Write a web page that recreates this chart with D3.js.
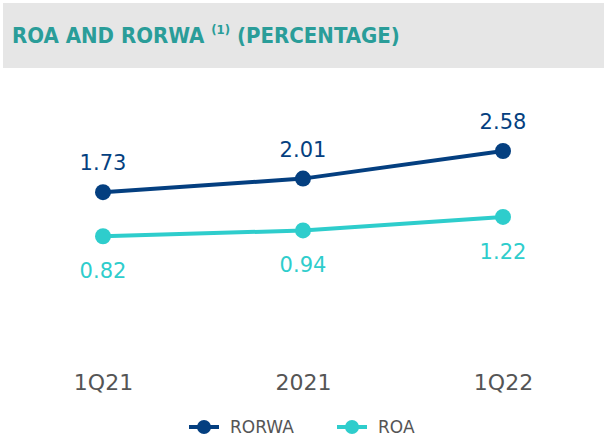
<!DOCTYPE html>
<html>
<head>
<meta charset="utf-8">
<script src="https://cdn.jsdelivr.net/npm/d3@7"></script>
<style>
  body { margin: 0; background: #fff; }
  svg { display: block; }
</style>
</head>
<body>
<svg id="chart" width="604" height="444"></svg>
<script>
var periods = ["1Q21", "2021", "1Q22"];
var rorwa = [1.73, 2.01, 2.58];
var roa = [0.82, 0.94, 1.22];
var seriesNames = ["RORWA", "ROA"];
var seriesColors = ["#043f80", "#2ecdcc"];

var svg = d3.select("#chart");

// header band
svg.append("rect")
    .attr("x", 3).attr("y", 3)
    .attr("width", 601).attr("height", 65)
    .attr("fill", "#e6e6e6");

var title = svg.append("text")
    .attr("x", 12).attr("y", 43)
    .attr("fill", "#2a9d99")
    .style("font-family", "'Liberation Sans Narrow', 'DejaVu Sans Condensed', Roboto, sans-serif")
    .style("font-weight", "bold")
    .style("font-size", "22px");
title.append("tspan").text("ROA AND RORWA ");
title.append("tspan").attr("dy", -9).style("font-size", "13px").text("(1)");
title.append("tspan").attr("dy", 9).text(" (PERCENTAGE)");

var x = d3.scalePoint().domain(periods).range([103, 503]);
var y = d3.scaleLinear().domain([0, 2.58]).range([276, 151]);

var line = d3.line()
    .x(function(d, i) { return x(periods[i]); })
    .y(function(d) { return y(d); });

var data = [rorwa, roa];

data.forEach(function(vals, s) {
  svg.append("path")
      .datum(vals)
      .attr("d", line)
      .attr("fill", "none")
      .attr("stroke", seriesColors[s])
      .attr("stroke-width", 4);

  svg.selectAll(".dot" + s)
    .data(vals)
    .enter().append("circle")
      .attr("class", "dot" + s)
      .attr("cx", function(d, i) { return x(periods[i]); })
      .attr("cy", function(d) { return y(d); })
      .attr("r", 8)
      .attr("fill", seriesColors[s]);

  svg.selectAll(".lbl" + s)
    .data(vals)
    .enter().append("text")
      .attr("class", "lbl" + s)
      .attr("x", function(d, i) { return x(periods[i]); })
      .attr("y", function(d) { return s == 0 ? y(d) - 22 : y(d) + 42; })
      .attr("text-anchor", "middle")
      .attr("fill", seriesColors[s])
      .style("font-family", "'DejaVu Sans', sans-serif")
      .style("font-size", "21px")
      .text(function(d) { return d.toFixed(2); });
});

// x axis labels only
var xAxis = svg.append("g")
    .attr("transform", "translate(0,374)")
    .call(d3.axisBottom(x).tickSize(0).tickPadding(0));
xAxis.select(".domain").remove();
xAxis.selectAll("text")
    .attr("dy", "0.71em")
    .attr("fill", "#555")
    .style("font-family", "'DejaVu Sans', sans-serif")
    .style("font-size", "22px");

// legend
var legendX = [189, 337];
seriesNames.forEach(function(name, s) {
  var lg = svg.append("g").attr("transform", "translate(" + legendX[s] + ",427)");
  lg.append("line")
      .attr("x1", 0).attr("x2", 30)
      .attr("stroke", seriesColors[s])
      .attr("stroke-width", 4);
  lg.append("circle")
      .attr("cx", 15).attr("r", 7)
      .attr("fill", seriesColors[s]);
  lg.append("text")
      .attr("x", 41).attr("y", 6)
      .attr("fill", "#555")
      .style("font-family", "'DejaVu Sans', sans-serif")
      .style("font-size", "17px")
      .text(name);
});
</script>
</body>
</html>
